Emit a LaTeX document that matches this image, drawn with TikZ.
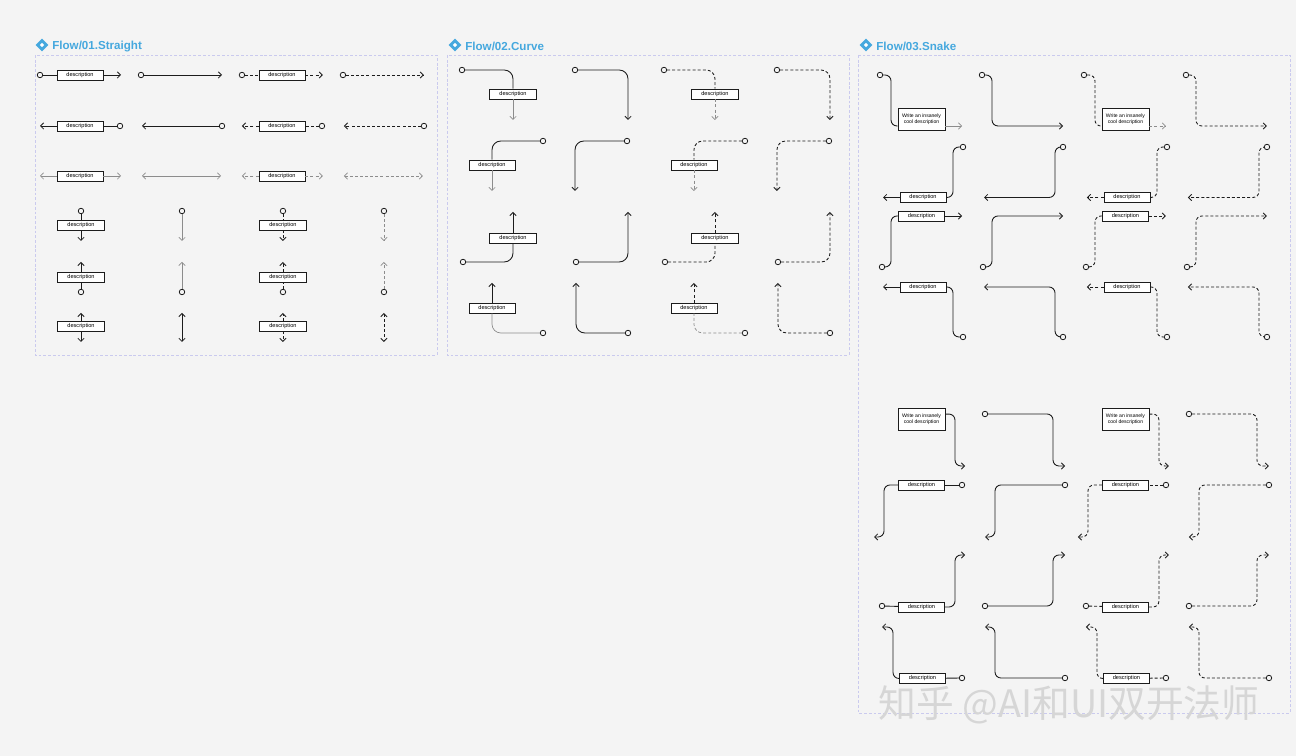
\documentclass[tikz,border=0pt]{standalone}
\usepackage{fontspec}
\setmainfont{Liberation Sans}
\newfontfamily\cjk{Noto Sans CJK SC}
\usetikzlibrary{arrows.meta, shapes.geometric}

\definecolor{canvas}{HTML}{F4F4F4}
\definecolor{framecol}{HTML}{CACAEE}
\definecolor{titleblue}{HTML}{45A8DE}
\definecolor{ink}{HTML}{1C1C1C}
\definecolor{softink}{HTML}{8C8C8C}
\definecolor{markgray}{HTML}{D6D6D6}

\tikzset{
    panelframe/.style = {draw=framecol, line width=0.35pt, dash pattern=on 1.6pt off 1.1pt},
    heading/.style = {anchor=west, inner sep=0pt, text=titleblue,
        font=\fontsize{6.6}{7}\selectfont\bfseries},
    badge/.style = {diamond, fill=titleblue, minimum size=0.26cm, inner sep=0pt},
    hole/.style = {diamond, fill=white, minimum size=0.09cm, inner sep=0pt},
    desc/.style = {
        rectangle, draw=ink, fill=white, line width=0.45pt,
        minimum width=0.92cm, minimum height=0.2cm, inner sep=0pt,
        font=\fontsize{3.2}{3.8}\selectfont
    },
    longdesc/.style = {
        desc, minimum width=0.94cm, minimum height=0.44cm, align=center,
        font=\fontsize{2.9}{3.5}\selectfont
    },
    port/.style = {circle, draw=ink, fill=canvas, line width=0.45pt,
        minimum size=0.11cm, inner sep=0pt},
    flow/.style = {draw=ink, line width=0.5pt},
    faint/.style = {draw=softink, line width=0.4pt},
    dashline/.style = {dash pattern=on 1.7pt off 1.2pt},
    arrowend/.style = {-{Straight Barb[length=1.8pt,width=3.6pt]}},
    arrowboth/.style = {{Straight Barb[length=1.8pt,width=3.6pt]}-{Straight Barb[length=1.8pt,width=3.6pt]}},
    curvy/.style = {rounded corners=5pt},
    snaky/.style = {rounded corners=3.4pt},
    watermark/.style = {text=markgray, font=\cjk\fontsize{21.5}{23}\selectfont}
}

\begin{document}
\begin{tikzpicture}[x=0.02cm, y=-0.02cm]
\useasboundingbox (0,0) rectangle (1296,756);
\fill[canvas] (0,0) rectangle (1296,756);

% panels and titles
\draw[panelframe] (35,55) rectangle (437,355);
\draw[panelframe] (447,55) rectangle (849,355);
\draw[panelframe] (858,55) rectangle (1290,713);

\node[badge] (bd1) at (42,45) {};
\node[hole] (bh1) at (bd1) {};
\node[heading] (hd1) at (52,46.5) {Flow/01.Straight};
\node[badge] (bd2) at (455,45) {};
\node[hole] (bh2) at (bd2) {};
\node[heading] (hd2) at (465,46.5) {Flow/02.Curve};
\node[badge] (bd3) at (866,45) {};
\node[hole] (bh3) at (bd3) {};
\node[heading] (hd3) at (876,46.5) {Flow/03.Snake};

% straight: solid copy, then dashed copy
\foreach \dx/\ls [count=\i] in {0cm/solid, 4.04cm/dashline} {
\begin{scope}[xshift=\dx]
  \node[port] (a1\i) at (40,75) {};
  \node[desc] (ad1\i) at (80,75) {description};
  \coordinate (ae1\i) at (121,75);
  \draw[flow,\ls] (a1\i) -- (ad1\i);
  \draw[flow,\ls,arrowend] (ad1\i) -- (ae1\i);
  \node[port] (b1\i) at (141,75) {};
  \coordinate (be1\i) at (222,75);
  \draw[flow,\ls,arrowend] (b1\i) -- (be1\i);

  \coordinate (ae2\i) at (40,126);
  \node[desc] (ad2\i) at (80,126) {description};
  \node[port] (a2\i) at (120,126) {};
  \draw[flow,\ls,arrowend] (ad2\i) -- (ae2\i);
  \draw[flow,\ls] (a2\i) -- (ad2\i);
  \coordinate (be2\i) at (142,126);
  \node[port] (b2\i) at (222,126) {};
  \draw[flow,\ls,arrowend] (b2\i) -- (be2\i);

  \coordinate (ae3\i) at (40,176);
  \node[desc] (ad3\i) at (80,176) {description};
  \coordinate (af3\i) at (121,176);
  \draw[faint,\ls,arrowend] (ad3\i) -- (ae3\i);
  \draw[faint,\ls,arrowend] (ad3\i) -- (af3\i);
  \coordinate (be3\i) at (142,176);
  \coordinate (bf3\i) at (221,176);
  \draw[faint,\ls,arrowboth] (be3\i) -- (bf3\i);

  \node[port] (a4\i) at (81,211) {};
  \node[desc, minimum width=0.94cm] (ad4\i) at (81,225) {description};
  \coordinate (ae4\i) at (81,241);
  \draw[flow,\ls] (a4\i) -- (ad4\i);
  \draw[flow,\ls,arrowend] (ad4\i) -- (ae4\i);
  \node[port] (b4\i) at (182,211) {};
  \coordinate (be4\i) at (182,241);
  \draw[faint,\ls,arrowend] (b4\i) -- (be4\i);

  \coordinate (ae5\i) at (81,262);
  \node[desc, minimum width=0.94cm] (ad5\i) at (81,277) {description};
  \node[port] (a5\i) at (81,292) {};
  \draw[flow,\ls,arrowend] (ad5\i) -- (ae5\i);
  \draw[flow,\ls] (a5\i) -- (ad5\i);
  \coordinate (be5\i) at (182,262);
  \node[port] (b5\i) at (182,292) {};
  \draw[faint,\ls,arrowend] (b5\i) -- (be5\i);

  \coordinate (ae6\i) at (81,313);
  \node[desc, minimum width=0.94cm] (ad6\i) at (81,326) {description};
  \coordinate (af6\i) at (81,342);
  \draw[flow,\ls,arrowend] (ad6\i) -- (ae6\i);
  \draw[flow,\ls,arrowend] (ad6\i) -- (af6\i);
  \coordinate (be6\i) at (182,313);
  \coordinate (bf6\i) at (182,342);
  \draw[flow,\ls,arrowboth] (be6\i) -- (bf6\i);
\end{scope}
}

% curve
\foreach \dx/\ls [count=\i] in {0cm/solid, 4.04cm/dashline} {
\begin{scope}[xshift=\dx]
  \node[port] (p1\i) at (462,70) {};
  \node[desc, minimum width=0.94cm] (pd1\i) at (513,94) {description};
  \coordinate (pe1\i) at (513,120);
  \draw[flow,\ls,curvy] (p1\i) -| (pd1\i.north);
  \draw[faint,\ls,arrowend] (pd1\i) -- (pe1\i);
  \node[port] (q1\i) at (575,70) {};
  \coordinate (qe1\i) at (628,120);
  \draw[flow,\ls,curvy,arrowend] (q1\i) -| (qe1\i);

  \node[port] (p2\i) at (543,141) {};
  \node[desc] (pd2\i) at (492,165) {description};
  \coordinate (pe2\i) at (492,191);
  \draw[flow,\ls,curvy] (p2\i) -| (pd2\i.north);
  \draw[faint,\ls,arrowend] (pd2\i) -- (pe2\i);
  \node[port] (q2\i) at (627,141) {};
  \coordinate (qe2\i) at (575,191);
  \draw[flow,\ls,curvy,arrowend] (q2\i) -| (qe2\i);

  \node[port] (p3\i) at (463,262) {};
  \node[desc, minimum width=0.94cm] (pd3\i) at (513,238) {description};
  \coordinate (pe3\i) at (513,212);
  \draw[flow,\ls,curvy] (p3\i) -| (pd3\i.south);
  \draw[flow,\ls,arrowend] (pd3\i) -- (pe3\i);
  \node[port] (q3\i) at (576,262) {};
  \coordinate (qe3\i) at (628,212);
  \draw[flow,\ls,curvy,arrowend] (q3\i) -| (qe3\i);

  \node[port] (p4\i) at (543,333) {};
  \node[desc] (pd4\i) at (492,308) {description};
  \coordinate (pe4\i) at (492,283);
  \draw[faint,\ls,curvy] (p4\i) -| (pd4\i.south);
  \draw[flow,\ls,arrowend] (pd4\i) -- (pe4\i);
  \node[port] (q4\i) at (628,333) {};
  \coordinate (qe4\i) at (576,283);
  \draw[flow,\ls,curvy,arrowend] (q4\i) -| (qe4\i);
\end{scope}
}

% snake
\foreach \dx/\ls [count=\i] in {0cm/solid, 4.08cm/dashline} {
\begin{scope}[xshift=\dx]
  % upper block
  \node[port] (s1\i) at (880,75) {};
  \node[longdesc] (sd1\i) at (921.5,119.5) {Write an insanely\\cool description};
  \coordinate (se1\i) at (962,126);
  \draw[flow,\ls,snaky] (s1\i) -| (891,100) |- (sd1\i.west |- se1\i);
  \draw[faint,\ls,arrowend] (sd1\i.east |- se1\i) -- (se1\i);
  \node[port] (t1\i) at (982,75) {};
  \coordinate (te1\i) at (1063,126);
  \draw[flow,\ls,snaky,arrowend] (t1\i) -| (992,100) |- (te1\i);

  \node[port] (s2\i) at (963,147) {};
  \node[desc] (sd2\i) at (923,197.5) {description};
  \coordinate (se2\i) at (883,197.5);
  \draw[flow,\ls,snaky] (s2\i) -| (953,170) |- (sd2\i.east);
  \draw[flow,\ls,arrowend] (sd2\i) -- (se2\i);
  \node[port] (t2\i) at (1063,147) {};
  \coordinate (te2\i) at (984,197.5);
  \draw[flow,\ls,snaky,arrowend] (t2\i) -| (1055,170) |- (te2\i);

  \node[port] (s3\i) at (882,267) {};
  \node[desc] (sd3\i) at (921.5,216) {description};
  \coordinate (se3\i) at (962,216);
  \draw[flow,\ls,snaky] (s3\i) -| (891,240) |- (sd3\i.west);
  \draw[flow,\ls,arrowend] (sd3\i) -- (se3\i);
  \node[port] (t3\i) at (983,267) {};
  \coordinate (te3\i) at (1063,216);
  \draw[flow,\ls,snaky,arrowend] (t3\i) -| (992,240) |- (te3\i);

  \coordinate (se4\i) at (883,287);
  \node[desc] (sd4\i) at (923,287) {description};
  \node[port] (s4\i) at (963,337) {};
  \draw[flow,\ls,arrowend] (sd4\i) -- (se4\i);
  \draw[flow,\ls,snaky] (sd4\i.east) -| (953,310) |- (s4\i);
  \coordinate (te4\i) at (984,287);
  \node[port] (t4\i) at (1063,337) {};
  \draw[flow,\ls,snaky,arrowend] (t4\i) -| (1055,310) |- (te4\i);

  % lower block
  \node[longdesc] (sd5\i) at (921.5,419.5) {Write an insanely\\cool description};
  \coordinate (se5\i) at (965,466);
  \draw[flow,\ls,snaky,arrowend] ([yshift=-0.12cm]sd5\i.north east) -| (955,440) |- (se5\i);
  \node[port] (t5\i) at (985,414) {};
  \coordinate (te5\i) at (1065,466);
  \draw[flow,\ls,snaky,arrowend] (t5\i) -| (1053,440) |- (te5\i);

  \node[port] (s6\i) at (962,485) {};
  \node[desc] (sd6\i) at (921.5,485) {description};
  \coordinate (se6\i) at (874,537);
  \draw[flow,\ls] (s6\i) -- (sd6\i);
  \draw[flow,\ls,snaky,arrowend] (sd6\i) -| (884,510) |- (se6\i);
  \node[port] (t6\i) at (1065,485) {};
  \coordinate (te6\i) at (985,537);
  \draw[flow,\ls,snaky,arrowend] (t6\i) -| (995,510) |- (te6\i);

  \node[port] (s7\i) at (882,606) {};
  \node[desc] (sd7\i) at (921.5,607) {description};
  \coordinate (se7\i) at (965,555);
  \draw[flow,\ls] (s7\i) -- (sd7\i);
  \draw[flow,\ls,snaky,arrowend] (sd7\i) -| (955,580) |- (se7\i);
  \node[port] (t7\i) at (985,606) {};
  \coordinate (te7\i) at (1065,555);
  \draw[flow,\ls,snaky,arrowend] (t7\i) -| (1053,580) |- (te7\i);

  \coordinate (se8\i) at (882,627);
  \node[desc] (sd8\i) at (922.5,678.5) {description};
  \node[port] (s8\i) at (962,678) {};
  \draw[flow,\ls] (s8\i) -- (sd8\i);
  \draw[flow,\ls,snaky,arrowend] (sd8\i) -| (893,650) |- (se8\i);
  \coordinate (te8\i) at (985,627);
  \node[port] (t8\i) at (1065,678) {};
  \draw[flow,\ls,snaky,arrowend] (t8\i) -| (995,650) |- (te8\i);
\end{scope}
}

\node[watermark] (wm) at (1069,705) {知乎 @AI和UI双开法师};

\end{tikzpicture}
\end{document}
